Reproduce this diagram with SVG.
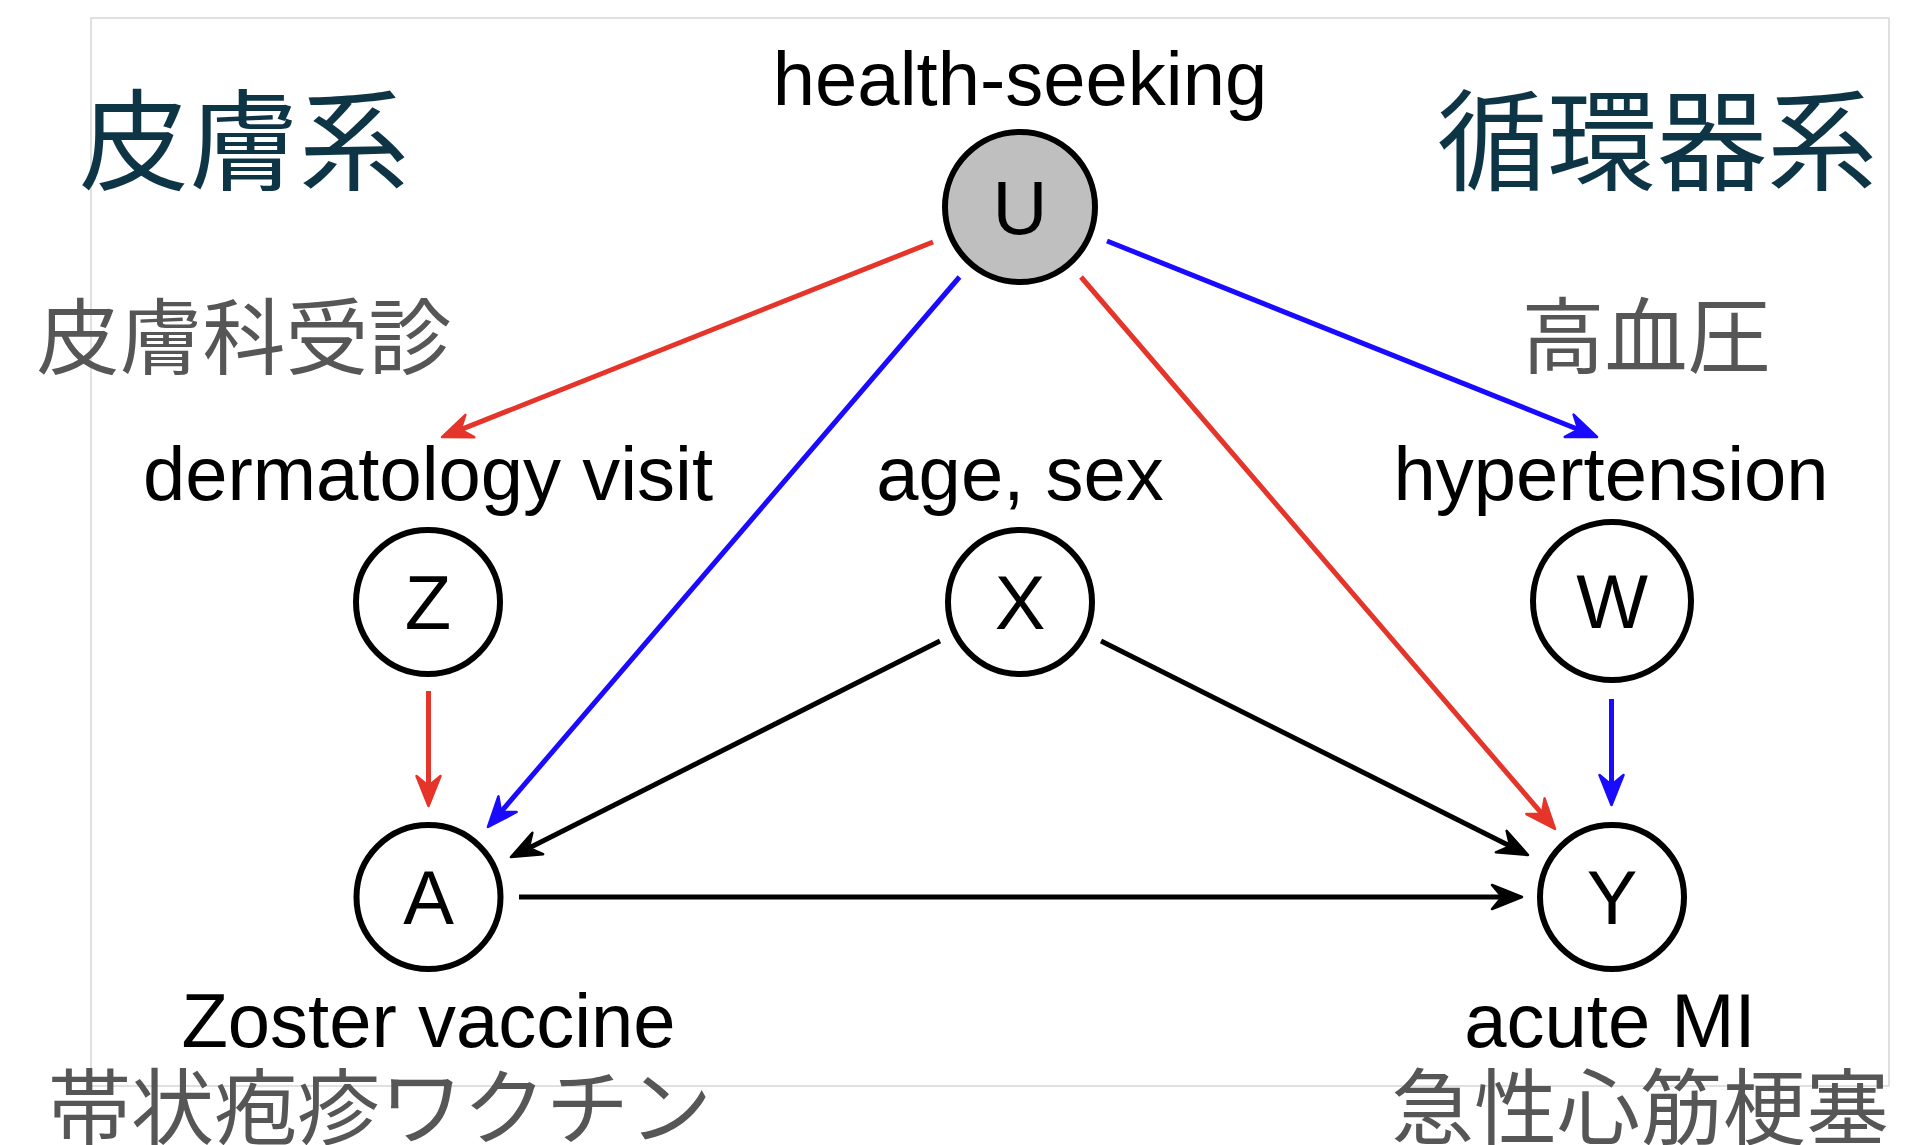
<svg xmlns="http://www.w3.org/2000/svg" width="1926" height="1145" viewBox="0 0 1926 1145">
<style>
.frame{fill:none;stroke:#cccccc;stroke-width:1.2}
.node{fill:#ffffff;stroke:#000000;stroke-width:6}
.node.latent{fill:#bfbfbf}
.sym{font-family:"Liberation Sans",Arial,sans-serif;font-size:76px;fill:#000000;text-anchor:middle}
.lab{font-family:"Liberation Sans",Arial,sans-serif;font-size:76px;fill:#000000;text-anchor:middle}
.head{font-family:"Noto Sans CJK JP","Noto Sans CJK SC",sans-serif;font-size:110px;fill:#0d3545;text-anchor:middle}
.jp{font-family:"Noto Sans CJK JP","Noto Sans CJK SC",sans-serif;font-size:83px;fill:#565656;text-anchor:middle}
.e{fill:none;stroke-width:5}
.red{stroke:#e5352a}
.blue{stroke:#1a0aff}
.blk{stroke:#000000}
</style>
<defs>
<marker id="ar" markerUnits="userSpaceOnUse" viewBox="-34 -16 40 32" refX="-8" refY="0" markerWidth="40" markerHeight="32" orient="auto" overflow="visible">
<path d="M0,0 L-30,-12 L-20,0 L-30,12 Z" fill="#e5352a" stroke="#e5352a" stroke-width="2.5" stroke-linejoin="round"/>
</marker>
<marker id="ab" markerUnits="userSpaceOnUse" viewBox="-34 -16 40 32" refX="-8" refY="0" markerWidth="40" markerHeight="32" orient="auto" overflow="visible">
<path d="M0,0 L-30,-12 L-20,0 L-30,12 Z" fill="#1a0aff" stroke="#1a0aff" stroke-width="2.5" stroke-linejoin="round"/>
</marker>
<marker id="ak" markerUnits="userSpaceOnUse" viewBox="-34 -16 40 32" refX="-8" refY="0" markerWidth="40" markerHeight="32" orient="auto" overflow="visible">
<path d="M0,0 L-30,-12 L-20,0 L-30,12 Z" fill="#000000" stroke="#000000" stroke-width="2.5" stroke-linejoin="round"/>
</marker>
</defs>
<rect width="1926" height="1145" fill="#ffffff"/>
<rect class="frame" x="91" y="18" width="1798" height="1068"/>

<g id="connectors">
<line class="e red" x1="933" y1="242" x2="449.4" y2="434.1" marker-end="url(#ar)"/>
<line class="e blue" x1="959.5" y1="277" x2="493.2" y2="820.9" marker-end="url(#ab)"/>
<line class="e red" x1="1081" y1="277" x2="1549.8" y2="822.9" marker-end="url(#ar)"/>
<line class="e blue" x1="1107" y1="241" x2="1589.6" y2="434" marker-end="url(#ab)"/>
<line class="e red" x1="428.5" y1="691" x2="428.5" y2="798" marker-end="url(#ar)"/>
<line class="e blue" x1="1611.5" y1="699" x2="1611.5" y2="797" marker-end="url(#ab)"/>
<line class="e blk" x1="940" y1="641" x2="518.1" y2="853.4" marker-end="url(#ak)"/>
<line class="e blk" x1="1101" y1="641" x2="1520.9" y2="851.4" marker-end="url(#ak)"/>
<line class="e blk" x1="519" y1="897" x2="1514" y2="897" marker-end="url(#ak)"/>
</g>

<g id="node-U">
<text class="lab" x="1020" y="105">health-seeking</text>
<circle class="node latent" cx="1020" cy="207" r="75"/>
<text class="sym" x="1020" y="234">U</text>
</g>
<g id="node-Z">
<text class="lab" x="428" y="500">dermatology visit</text>
<circle class="node" cx="428" cy="602" r="72"/>
<text class="sym" x="428" y="629">Z</text>
</g>
<g id="node-X">
<text class="lab" x="1020" y="500">age, sex</text>
<circle class="node" cx="1020" cy="602" r="72"/>
<text class="sym" x="1020" y="629">X</text>
</g>
<g id="node-W">
<text class="lab" x="1611" y="500">hypertension</text>
<circle class="node" cx="1612" cy="601" r="79"/>
<text class="sym" x="1612" y="628">W</text>
</g>
<g id="node-A">
<circle class="node" cx="428.5" cy="897" r="72"/>
<text class="sym" x="428.5" y="924">A</text>
<text class="lab" x="428.5" y="1047">Zoster vaccine</text>
</g>
<g id="node-Y">
<circle class="node" cx="1612" cy="897" r="72"/>
<text class="sym" x="1612" y="924">Y</text>
<text class="lab" x="1610" y="1047">acute MI</text>
</g>

<g id="annotations">
<text class="head" x="244" y="182">皮膚系</text>
<text class="head" x="1657" y="182">循環器系</text>
<text class="jp" x="244" y="368">皮膚科受診</text>
<text class="jp" x="1646" y="367">高血圧</text>
<text class="jp" x="380" y="1138">帯状疱疹ワクチン</text>
<text class="jp" x="1640" y="1138">急性心筋梗塞</text>
</g>
</svg>
